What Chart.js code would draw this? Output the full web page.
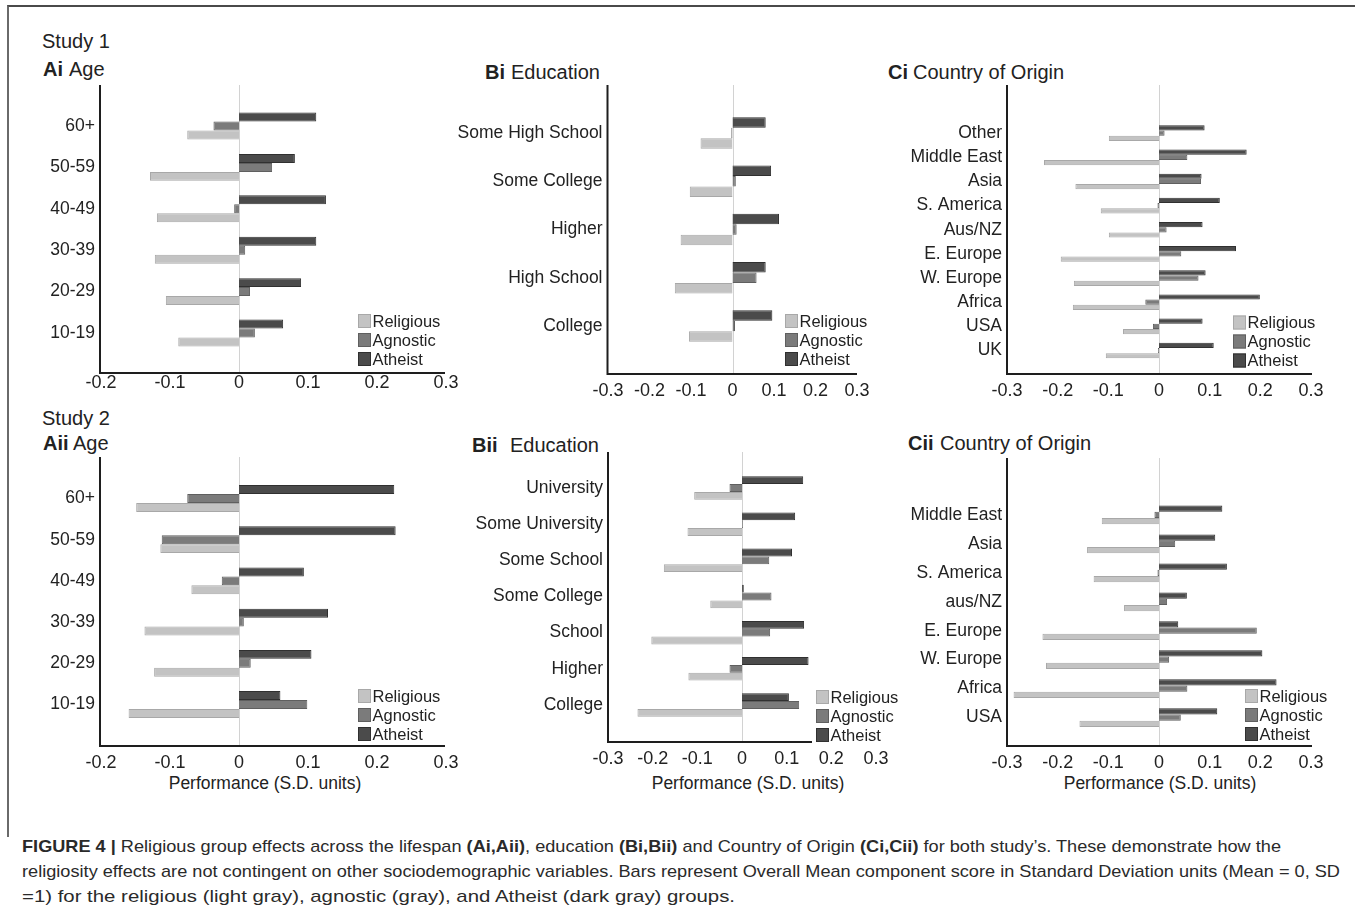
<!DOCTYPE html>
<html>
<head>
<meta charset="utf-8">
<title>Figure 4</title>
<script src="https://cdn.jsdelivr.net/npm/chart.js@4.4.0/dist/chart.umd.min.js"></script>
<style>
  html, body { margin: 0; padding: 0; background: #fff; }
  body { width: 1355px; height: 918px; position: relative; overflow: hidden;
         font-family: "Liberation Sans", Arial, Helvetica, sans-serif; color: #222; }
  canvas.panel { position: absolute; left: 0; top: 0; }
  .frame { position: absolute; left: 7px; top: 5px; width: 1370px; height: 830px;
           border-left: 2px solid #6a6a6a; border-top: 2px solid #4a4a4a; }
  .t { position: absolute; white-space: nowrap; font-size: 20px; line-height: 20px; }
  .t.b { font-weight: bold; }
  .xlab { position: absolute; white-space: nowrap; font-size: 17.5px; line-height: 18px; transform: translateX(-50%); }
  .cap { position: absolute; left: 22px; white-space: nowrap; font-size: 17px; line-height: 18px; color: #2a2a2a;
         font-family: "Liberation Sans", Arial, sans-serif;
         transform-origin: 0 50%; }
</style>
</head>
<body>
<div class="frame"></div>

<div class="t" style="left:42px; top:31px;">Study 1</div>
<div class="t b" style="left:43px; top:59px;">Ai</div>
<div class="t" style="left:69px; top:59px;">Age</div>
<div class="t b" style="left:485px; top:62px;">Bi</div>
<div class="t" style="left:511px; top:62px;">Education</div>
<div class="t b" style="left:888px; top:62px;">Ci</div>
<div class="t" style="left:913px; top:62px;">Country of Origin</div>

<div class="t" style="left:42px; top:408px;">Study 2</div>
<div class="t b" style="left:43px; top:433px;">Aii</div>
<div class="t" style="left:73px; top:433px;">Age</div>
<div class="t b" style="left:472px; top:435px;">Bii</div>
<div class="t" style="left:510px; top:435px;">Education</div>
<div class="t b" style="left:908px; top:433px;">Cii</div>
<div class="t" style="left:940px; top:433px;">Country of Origin</div>

<div class="xlab" style="left:265px; top:774px;">Performance (S.D. units)</div>
<div class="xlab" style="left:748px; top:774px;">Performance (S.D. units)</div>
<div class="xlab" style="left:1160px; top:774px;">Performance (S.D. units)</div>

<div class="cap" data-w="1259" style="top:838px;"><b>FIGURE 4 |</b> Religious group effects across the lifespan <b>(Ai,Aii)</b>, education <b>(Bi,Bii)</b> and Country of Origin <b>(Ci,Cii)</b> for both study’s. These demonstrate how the</div>
<div class="cap" data-w="1318" style="top:863px;">religiosity effects are not contingent on other sociodemographic variables. Bars represent Overall Mean component score in Standard Deviation units (Mean = 0, SD</div>
<div class="cap" data-w="713" style="top:888px;">=1) for the religious (light gray), agnostic (gray), and Atheist (dark gray) groups.</div>

<canvas class="panel" id="ai" width="1355" height="918"></canvas>
<canvas class="panel" id="bi" width="1355" height="918"></canvas>
<canvas class="panel" id="ci" width="1355" height="918"></canvas>
<canvas class="panel" id="aii" width="1355" height="918"></canvas>
<canvas class="panel" id="bii" width="1355" height="918"></canvas>
<canvas class="panel" id="cii" width="1355" height="918"></canvas>

<script>
// Study 1 - Age
const ageCats1 = ['60+', '50-59', '40-49', '30-39', '20-29', '10-19'];
const ageRel1 = [-0.075, -0.129, -0.119, -0.122, -0.106, -0.088];
const ageAgn1 = [-0.037, 0.048, -0.007, 0.009, 0.016, 0.023];
const ageAth1 = [0.112, 0.081, 0.126, 0.112, 0.090, 0.064];

// Study 1 - Education
const eduCats1 = ['Some High School', 'Some College', 'Higher', 'High School', 'College'];
const eduRel1 = [-0.077, -0.103, -0.125, -0.139, -0.105];
const eduAgn1 = [-0.003, 0.008, 0.010, 0.058, 0.006];
const eduAth1 = [0.080, 0.093, 0.112, 0.080, 0.096];

// Study 1 - Country of origin
const ctyCats1 = ['Other', 'Middle East', 'Asia', 'S. America', 'Aus/NZ', 'E. Europe', 'W. Europe', 'Africa', 'USA', 'UK'];
const ctyRel1 = [-0.099, -0.227, -0.165, -0.115, -0.099, -0.194, -0.168, -0.170, -0.071, -0.105];
const ctyAgn1 = [0.011, 0.056, 0.083, -0.003, 0.015, 0.044, 0.078, -0.027, -0.012, -0.002];
const ctyAth1 = [0.090, 0.173, 0.084, 0.120, 0.086, 0.152, 0.092, 0.199, 0.086, 0.108];

// Study 2 - Age
const ageCats2 = ['60+', '50-59', '40-49', '30-39', '20-29', '10-19'];
const ageRel2 = [-0.149, -0.114, -0.069, -0.137, -0.123, -0.160];
const ageAgn2 = [-0.075, -0.112, -0.025, 0.007, 0.017, 0.099];
const ageAth2 = [0.225, 0.227, 0.094, 0.129, 0.105, 0.060];

// Study 2 - Education
const eduCats2 = ['University', 'Some University', 'Some School', 'Some College', 'School', 'Higher', 'College'];
const eduRel2 = [-0.107, -0.122, -0.175, -0.071, -0.203, -0.120, -0.234];
const eduAgn2 = [-0.028, 0.002, 0.061, 0.066, 0.063, -0.028, 0.128];
const eduAth2 = [0.137, 0.119, 0.112, 0.004, 0.139, 0.149, 0.105];

// Study 2 - Country of origin
const ctyCats2 = ['Middle East', 'Asia', 'S. America', 'aus/NZ', 'E. Europe', 'W. Europe', 'Africa', 'USA'];
const ctyRel2 = [-0.113, -0.142, -0.129, -0.069, -0.230, -0.223, -0.287, -0.157];
const ctyAgn2 = [-0.009, 0.032, -0.003, 0.016, 0.193, 0.020, 0.056, 0.043];
const ctyAth2 = [0.125, 0.111, 0.134, 0.055, 0.038, 0.204, 0.232, 0.115];

const groupNames = ['Religious', 'Agnostic', 'Atheist'];

const W = 1355, H = 918;
const FONT = '"Liberation Sans", Arial, Helvetica, sans-serif';
const FILL = { Religious: '#c3c3c3', Agnostic: '#7b7b7b', Atheist: '#4b4b4b' };
const EDGE = { Religious: '#a8a8a8', Agnostic: '#5f5f5f', Atheist: '#303030' };

// where each panel sits on the page
const panels = [
    { id: 'ai', cats: ageCats1, rel: ageRel1, agn: ageAgn1, ath: ageAth1, xMin: -0.2, xMax: 0.3,
      left: 101, right: 446, top: 105.3, bottom: 353.7, axisX: 100, axisTop: 85, axisBottom: 373, axisRight: 445,
      tickGap: 0, legend: { x: 358, y: 321 } },
    { id: 'bi', cats: eduCats1, rel: eduRel1, agn: eduAgn1, ath: eduAth1, xMin: -0.3, xMax: 0.3,
      left: 608, right: 857, top: 108.9, bottom: 350.1, axisX: 607.5, axisTop: 85, axisBottom: 374, axisRight: 857,
      tickGap: 7, legend: { x: 785, y: 321 } },
    { id: 'ci', cats: ctyCats1, rel: ctyRel1, agn: ctyAgn1, ath: ctyAth1, xMin: -0.3, xMax: 0.3,
      left: 1007, right: 1311, top: 121.1, bottom: 362.6, axisX: 1007, axisTop: 85, axisBottom: 374, axisRight: 1312,
      tickGap: 7, legend: { x: 1233, y: 322.5 } },
    { id: 'aii', cats: ageCats2, rel: ageRel2, agn: ageAgn2, ath: ageAth2, xMin: -0.2, xMax: 0.3,
      left: 101, right: 446, top: 477.9, bottom: 725.1, axisX: 100, axisTop: 457, axisBottom: 746, axisRight: 445,
      tickGap: 7, legend: { x: 358, y: 696 } },
    { id: 'bii', cats: eduCats2, rel: eduRel2, agn: eduAgn2, ath: eduAth2, xMin: -0.3, xMax: 0.3,
      left: 608, right: 876, top: 469.9, bottom: 723.1, axisX: 608, axisTop: 452, axisBottom: 742, axisRight: 876,
      tickGap: 7, legend: { x: 816, y: 697, cover: [812, 686, 70, 62] } },
    { id: 'cii', cats: ctyCats2, rel: ctyRel2, agn: ctyAgn2, ath: ctyAth2, xMin: -0.3, xMax: 0.3,
      left: 1007, right: 1311, top: 500.5, bottom: 732, axisX: 1007, axisTop: 458, axisBottom: 746, axisRight: 1312,
      tickGap: 7, legend: { x: 1245, y: 696 } }
];

function fmtTick(v) {
    return String(Number(v.toFixed(1)));
}

function makeDeco(p) {
    return {
        id: 'deco_' + p.id,
        beforeDatasetsDraw(chart) {
            // light zero line behind the bars
            const ctx = chart.ctx;
            const zero = Math.round(chart.scales.x.getPixelForValue(0)) + 0.5;
            ctx.save();
            ctx.strokeStyle = '#d2d2d2';
            ctx.lineWidth = 1;
            ctx.beginPath();
            ctx.moveTo(zero, p.axisTop);
            ctx.lineTo(zero, p.axisBottom);
            ctx.stroke();
            ctx.restore();
        },
        afterDatasetsDraw(chart) {
            const ctx = chart.ctx;
            ctx.save();
            ctx.strokeStyle = '#1e1e1e';
            ctx.lineWidth = 2;
            ctx.beginPath();
            ctx.moveTo(p.axisX, p.axisTop);
            ctx.lineTo(p.axisX, p.axisBottom);
            ctx.lineTo(p.axisRight, p.axisBottom);
            ctx.stroke();
            ctx.restore();
        },
        afterDraw(chart) {
            const ctx = chart.ctx;
            const lg = p.legend;
            ctx.save();
            if (lg.cover) {
                ctx.fillStyle = '#fff';
                ctx.fillRect(lg.cover[0], lg.cover[1], lg.cover[2], lg.cover[3]);
            }
            ctx.font = '16.5px ' + FONT;
            ctx.textBaseline = 'middle';
            ctx.textAlign = 'left';
            groupNames.forEach((name, i) => {
                const cy = lg.y + i * 19;
                ctx.fillStyle = FILL[name];
                ctx.fillRect(lg.x, cy - 7, 13, 14);
                ctx.strokeStyle = EDGE[name];
                ctx.lineWidth = 1;
                ctx.strokeRect(lg.x + 0.5, cy - 6.5, 12, 13);
                ctx.fillStyle = '#222';
                ctx.fillText(name, lg.x + 14.5, cy + 1);
            });
            ctx.restore();
        }
    };
}

panels.forEach(p => {
    const ds = (name, values) => ({
        label: name,
        data: values,
        backgroundColor: FILL[name],
        borderColor: EDGE[name],
        borderWidth: 1
    });
    new Chart(document.getElementById(p.id), {
        type: 'bar',
        data: {
            labels: p.cats,
            // first dataset is drawn on top inside each group
            datasets: [ds('Atheist', p.ath), ds('Agnostic', p.agn), ds('Religious', p.rel)]
        },
        options: {
            indexAxis: 'y',
            responsive: false,
            animation: false,
            events: [],
            layout: { padding: { left: 0, top: p.top, right: W - p.right, bottom: 0 } },
            datasets: { bar: { categoryPercentage: 0.65, barPercentage: 1 } },
            plugins: { legend: { display: false }, tooltip: { enabled: false } },
            scales: {
                x: {
                    type: 'linear', min: p.xMin, max: p.xMax,
                    grid: { display: false, drawTicks: false },
                    border: { display: false },
                    ticks: {
                        stepSize: 0.1, autoSkip: false, maxRotation: 0,
                        padding: p.axisBottom - p.bottom + p.tickGap - 1,
                        color: '#222', font: { size: 18, family: FONT },
                        callback: fmtTick
                    },
                    afterFit: s => { s.height = H - p.bottom; }
                },
                y: {
                    grid: { display: false, drawTicks: false },
                    border: { display: false },
                    ticks: {
                        autoSkip: false,
                        padding: p.left - p.axisX + 5,
                        color: '#222', font: { size: 17.5, family: FONT }
                    },
                    afterFit: s => { s.width = p.left; }
                }
            }
        },
        plugins: [makeDeco(p)]
    });
});

// squeeze caption lines to the widths of the original
document.querySelectorAll('.cap').forEach(el => {
    const target = parseFloat(el.dataset.w);
    const w = el.getBoundingClientRect().width;
    if (w > 0) el.style.transform = 'scaleX(' + (target / w) + ')';
});
</script>
</body>
</html>
